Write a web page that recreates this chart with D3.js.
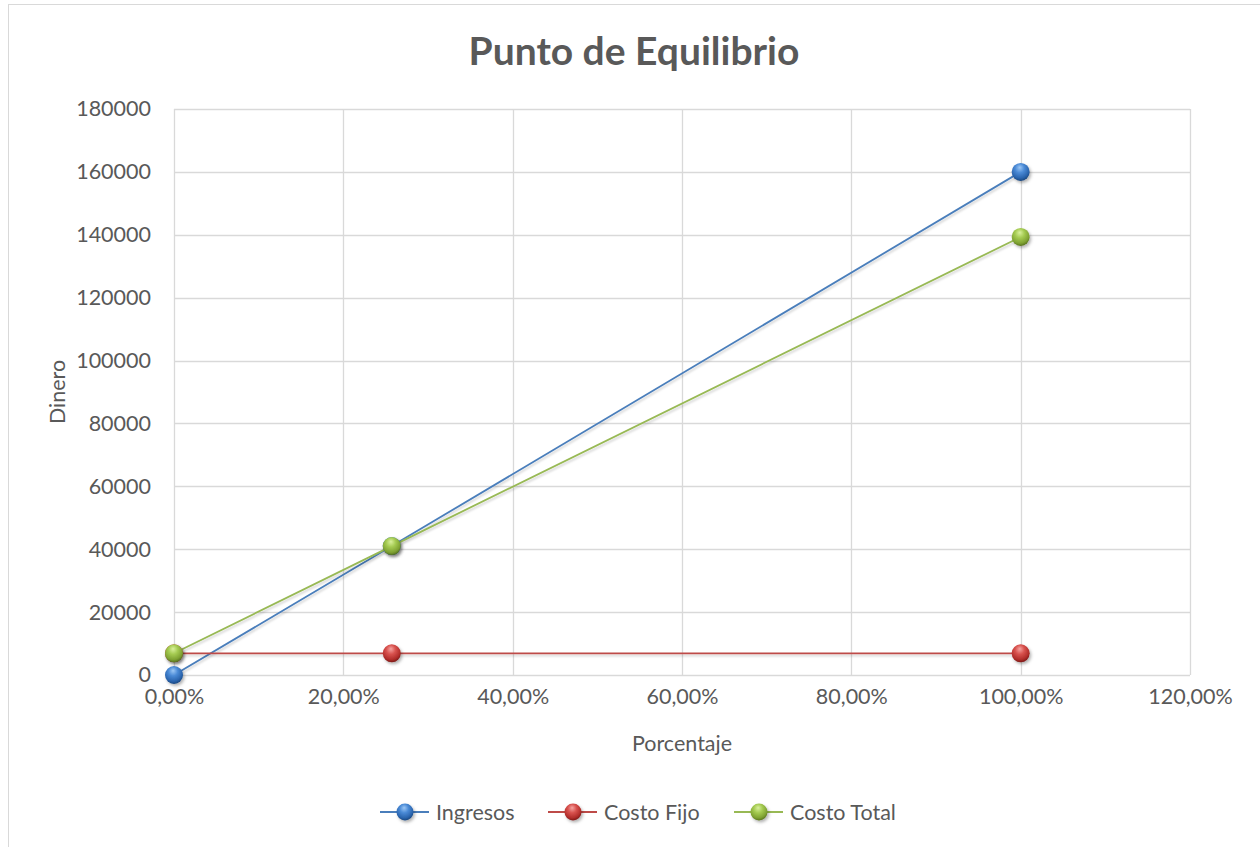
<!DOCTYPE html>
<html>
<head>
<meta charset="utf-8">
<script src="https://cdn.jsdelivr.net/npm/d3@7"></script>
<style>
  html, body { margin: 0; padding: 0; background: #ffffff; }
  svg { display: block; }
  text { font-family: Lato, "Open Sans", sans-serif; fill: #595959; }
</style>
</head>
<body>
<svg id="chart" width="1260" height="847"></svg>
<script>
// ---- data ----
const xValues = [0, 0.2572, 1.0];                 // Porcentaje
const ingresos = [0, 41000, 160000];
const costoFijo = [6900, 6900, 6900];
const costoTotal = [6900, 41000, 139300];
const seriesNames = ["Ingresos", "Costo Fijo", "Costo Total"];
const yTicks = [0, 20000, 40000, 60000, 80000, 100000, 120000, 140000, 160000, 180000];
const xTicks = [0, 0.2, 0.4, 0.6, 0.8, 1.0, 1.2];
const titleText = "Punto de Equilibrio";
const xTitle = "Porcentaje";
const yTitle = "Dinero";

const colors = ["#4a7ebb", "#be4b48", "#98b954"];
const ballStops = [
  ["#9cc7f5", "#4a8ad6", "#2a64ad", "#1b477e"],
  ["#f5a3a1", "#d8524e", "#b12d2a", "#7c1a18"],
  ["#d9f09c", "#a5cb52", "#7fa232", "#587320"]
];
const FS = "21.5px";

const svg = d3.select("#chart");
const defs = svg.append("defs");

ballStops.forEach((s, i) => {
  const g = defs.append("radialGradient").attr("id", "ball" + i)
    .attr("cx", "45%").attr("cy", "35%").attr("r", "65%").attr("fx", "45%").attr("fy", "25%");
  g.append("stop").attr("offset", "0%").attr("stop-color", s[0]);
  g.append("stop").attr("offset", "40%").attr("stop-color", s[1]);
  g.append("stop").attr("offset", "80%").attr("stop-color", s[2]);
  g.append("stop").attr("offset", "100%").attr("stop-color", s[3]);
});
const sh = defs.append("filter").attr("id", "shadow").attr("x", "-50%").attr("y", "-50%").attr("width", "200%").attr("height", "200%");
sh.append("feDropShadow").attr("dx", 1.5).attr("dy", 2).attr("stdDeviation", 1.5).attr("flood-color", "#000").attr("flood-opacity", 0.3);
const lsh = defs.append("filter").attr("id", "lshadow").attr("filterUnits", "userSpaceOnUse")
  .attr("x", 0).attr("y", 0).attr("width", 1260).attr("height", 847);
lsh.append("feDropShadow").attr("dx", 1).attr("dy", 2).attr("stdDeviation", 1.2).attr("flood-color", "#000").attr("flood-opacity", 0.18);

svg.append("rect").attr("x", 8.5).attr("y", 4.5).attr("width", 1300).attr("height", 900)
  .attr("fill", "#fff").attr("stroke", "#d9d9d9").attr("stroke-width", 1);

const x = d3.scaleLinear().domain([0, 1.2]).range([174, 1190]);
const y = d3.scaleLinear().domain([0, 180000]).range([675, 109]);

const grid = svg.append("g");
grid.selectAll("line.h").data(yTicks).join("line")
  .attr("x1", x(0)).attr("x2", x(1.2))
  .attr("y1", d => Math.round(y(d)) + 0.5).attr("y2", d => Math.round(y(d)) + 0.5)
  .attr("stroke", "#d9d9d9").attr("stroke-width", 1.3);
grid.selectAll("line.v").data(xTicks).join("line")
  .attr("y1", y(0)).attr("y2", y(180000))
  .attr("x1", d => Math.round(x(d)) + 0.5).attr("x2", d => Math.round(x(d)) + 0.5)
  .attr("stroke", "#d9d9d9").attr("stroke-width", 1.3);

const fmtPct = d => d3.format(".2f")(d * 100).replace(".", ",") + "%";
const yAxis = d3.axisLeft(y).tickValues(yTicks).tickSize(0).tickPadding(23).tickFormat(d3.format("d"));
const gy = svg.append("g").attr("transform", `translate(${x(0)},0)`).call(yAxis);
gy.select(".domain").remove();
gy.selectAll("text").style("font-size", FS).attr("fill", "#595959").style("font-family", "Lato, 'Open Sans', sans-serif");

const xAxis = d3.axisBottom(x).tickValues(xTicks).tickSize(0).tickPadding(14).tickFormat(fmtPct);
const gx = svg.append("g").attr("transform", `translate(0,${y(0)})`).call(xAxis);
gx.select(".domain").remove();
gx.selectAll("text").style("font-size", FS).attr("fill", "#595959").style("font-family", "Lato, 'Open Sans', sans-serif");

svg.append("text").attr("x", 634).attr("y", 65).attr("text-anchor", "middle")
  .style("font-size", "39px").style("font-weight", "bold").text(titleText);
svg.append("text").attr("x", 682).attr("y", 751).attr("text-anchor", "middle")
  .style("font-size", FS).text(xTitle);
svg.append("text").attr("transform", "translate(65,392) rotate(-90)").attr("text-anchor", "middle")
  .style("font-size", FS).text(yTitle);

const allSeries = [ingresos, costoFijo, costoTotal];
const line = d3.line().x(d => x(d[0])).y(d => y(d[1]));
allSeries.forEach((vals, i) => {
  const pts = xValues.map((xv, j) => [xv, vals[j]]);
  svg.append("path").datum(pts).attr("d", line)
    .attr("fill", "none").attr("stroke", colors[i]).attr("stroke-width", 1.8)
    .attr("filter", "url(#lshadow)");
});
allSeries.forEach((vals, i) => {
  const pts = xValues.map((xv, j) => [xv, vals[j]]);
  svg.append("g").selectAll("circle").data(pts).join("circle")
    .attr("cx", d => x(d[0])).attr("cy", d => y(d[1])).attr("r", 9)
    .attr("fill", `url(#ball${i})`).attr("filter", "url(#shadow)");
});

const legendX = [405, 573, 759];
const leg = svg.append("g");
seriesNames.forEach((name, i) => {
  const cx = legendX[i];
  leg.append("line").attr("x1", cx - 25).attr("x2", cx + 24).attr("y1", 812).attr("y2", 812)
    .attr("stroke", colors[i]).attr("stroke-width", 1.8);
  leg.append("circle").attr("cx", cx).attr("cy", 812).attr("r", 8.5)
    .attr("fill", `url(#ball${i})`).attr("filter", "url(#shadow)");
  leg.append("text").attr("x", cx + 31).attr("y", 812).attr("dy", "0.35em")
    .style("font-size", FS).text(name);
});
</script>
</body>
</html>
